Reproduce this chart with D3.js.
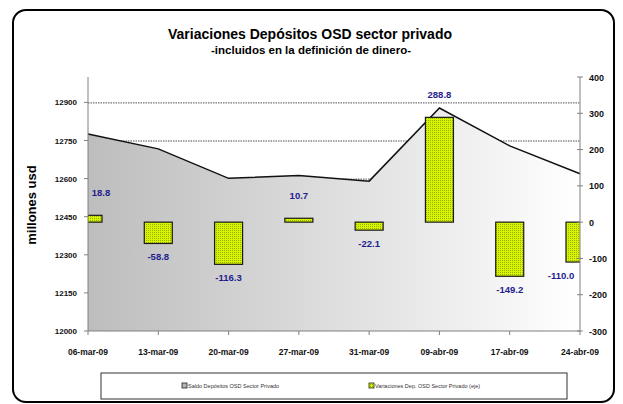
<!DOCTYPE html>
<html>
<head>
<meta charset="utf-8">
<script src="https://cdn.jsdelivr.net/npm/d3@7"></script>
<style>
  html, body { margin: 0; padding: 0; background: #fff; }
  svg { display: block; font-family: "Liberation Sans", Arial, sans-serif; }
</style>
</head>
<body>
<svg id="chart" width="623" height="404"></svg>
<script>
// chart data
const categories = ["06-mar-09", "13-mar-09", "20-mar-09", "27-mar-09", "31-mar-09", "09-abr-09", "17-abr-09", "24-abr-09"];
const saldo = [12776, 12717, 12601, 12612, 12590, 12878, 12729, 12619];
const variaciones = [18.8, -58.8, -116.3, 10.7, -22.1, 288.8, -149.2, -110.0];
const leftTicks = [12000, 12150, 12300, 12450, 12600, 12750, 12900];
const rightTicks = [-300, -200, -100, 0, 100, 200, 300, 400];
const legendLabels = ["Saldo Depósitos OSD Sector Privado", "Variaciones Dep. OSD Sector Privado (eje)"];

const W = 623, H = 404;
const plot = { left: 88, right: 580, top: 77, bottom: 331 };
const BAR_W = 28;

const svg = d3.select("#chart");
const defs = svg.append("defs");

// gradient for the area (gray to white, left to right)
const grad = defs.append("linearGradient")
  .attr("id", "areaGrad")
  .attr("gradientUnits", "userSpaceOnUse")
  .attr("x1", plot.left).attr("x2", plot.right)
  .attr("y1", 0).attr("y2", 0);
grad.append("stop").attr("offset", 0).attr("stop-color", "#bdbdbd");
grad.append("stop").attr("offset", 1).attr("stop-color", "#ffffff");

// stippled yellow-green fill for the bars
const pat = defs.append("pattern")
  .attr("id", "barPat")
  .attr("patternUnits", "userSpaceOnUse")
  .attr("width", 2).attr("height", 2);
pat.append("rect").attr("width", 2).attr("height", 2).attr("fill", "#d6f500");
pat.append("rect").attr("width", 1).attr("height", 1).attr("fill", "#9cae00");

defs.append("clipPath").attr("id", "plotClip")
  .append("rect")
  .attr("x", plot.left).attr("y", plot.top)
  .attr("width", plot.right - plot.left).attr("height", plot.bottom - plot.top);

// scales
const x = d3.scalePoint().domain(categories).range([plot.left, plot.right]);
const yL = d3.scaleLinear().domain([12000, 13000]).range([plot.bottom, plot.top]);
const yR = d3.scaleLinear().domain([-300, 400]).range([plot.bottom, plot.top]);

// outer frame
svg.append("rect")
  .attr("x", 13).attr("y", 10)
  .attr("width", 601).attr("height", 392)
  .attr("rx", 13).attr("ry", 13)
  .attr("fill", "none").attr("stroke", "#000").attr("stroke-width", 2);

// titles
svg.append("text")
  .attr("x", 310).attr("y", 39)
  .attr("text-anchor", "middle")
  .attr("font-size", 14).attr("font-weight", "bold")
  .text("Variaciones Depósitos OSD sector privado");
svg.append("text")
  .attr("x", 311).attr("y", 54)
  .attr("text-anchor", "middle")
  .attr("font-size", 11.5).attr("font-weight", "bold")
  .text("-incluidos en la definición de dinero-");

// gridlines (under the area)
svg.append("g")
  .selectAll("line")
  .data(leftTicks.filter(t => t > 12000))
  .join("line")
  .attr("x1", plot.left).attr("x2", plot.right)
  .attr("y1", d => yL(d) + 0.5).attr("y2", d => yL(d) + 0.5)
  .attr("stroke", "#222").attr("stroke-width", 0.8)
  .attr("stroke-dasharray", "1.5,1");

// area + line
const area = d3.area()
  .x((d, i) => x(categories[i]))
  .y0(plot.bottom)
  .y1(d => yL(d));
const line = d3.line()
  .x((d, i) => x(categories[i]))
  .y(d => yL(d));

svg.append("path")
  .datum(saldo)
  .attr("d", area)
  .attr("fill", "url(#areaGrad)");
svg.append("path")
  .datum(saldo)
  .attr("d", line)
  .attr("fill", "none")
  .attr("stroke", "#111").attr("stroke-width", 1.5);

// bars on secondary axis
svg.append("g")
  .attr("clip-path", "url(#plotClip)")
  .selectAll("rect")
  .data(variaciones)
  .join("rect")
  .attr("x", (d, i) => x(categories[i]) - BAR_W / 2)
  .attr("y", d => yR(Math.max(0, d)))
  .attr("width", BAR_W)
  .attr("height", d => Math.abs(yR(d) - yR(0)))
  .attr("fill", "url(#barPat)")
  .attr("stroke", "#1a1a1a").attr("stroke-width", 1.2);

// data labels
svg.append("g")
  .selectAll("text")
  .data(variaciones)
  .join("text")
  .attr("x", (d, i) => Math.min(x(categories[i]) + (i === 0 ? 13 : 0), plot.right - 19))
  .attr("y", d => d >= 0 ? yR(d) - 19 : yR(d) + 17)
  .attr("text-anchor", "middle")
  .attr("font-size", 9.5).attr("font-weight", "bold")
  .attr("fill", "#1e1e8e")
  .text(d => d.toFixed(1));

// axes
const axisColor = "#808080";
const gL = svg.append("g");
gL.append("line")
  .attr("x1", plot.left).attr("x2", plot.left)
  .attr("y1", plot.top).attr("y2", plot.bottom)
  .attr("stroke", axisColor);
gL.selectAll(".tk").data(leftTicks).join("line")
  .attr("x1", plot.left - 4).attr("x2", plot.left)
  .attr("y1", d => yL(d)).attr("y2", d => yL(d))
  .attr("stroke", axisColor);
gL.selectAll("text").data(leftTicks).join("text")
  .attr("x", 77).attr("y", d => yL(d) + 3)
  .attr("text-anchor", "end")
  .attr("font-size", 8).attr("font-weight", "bold")
  .attr("fill", "#111")
  .text(d => d);

const gR = svg.append("g");
gR.append("line")
  .attr("x1", plot.right).attr("x2", plot.right)
  .attr("y1", plot.top).attr("y2", plot.bottom)
  .attr("stroke", axisColor);
gR.selectAll(".tk").data(rightTicks).join("line")
  .attr("x1", plot.right - 3).attr("x2", plot.right + 3)
  .attr("y1", d => yR(d)).attr("y2", d => yR(d))
  .attr("stroke", axisColor);
gR.selectAll("text").data(rightTicks).join("text")
  .attr("x", 589).attr("y", d => yR(d) + 3.5)
  .attr("font-size", 9).attr("font-weight", "bold")
  .attr("fill", "#111")
  .text(d => d);

const gX = svg.append("g");
gX.append("line")
  .attr("x1", plot.left).attr("x2", plot.right)
  .attr("y1", plot.bottom).attr("y2", plot.bottom)
  .attr("stroke", axisColor);
gX.selectAll(".tk").data(categories).join("line")
  .attr("x1", d => x(d)).attr("x2", d => x(d))
  .attr("y1", plot.bottom).attr("y2", plot.bottom + 4)
  .attr("stroke", axisColor);
gX.selectAll("text").data(categories).join("text")
  .attr("x", d => x(d)).attr("y", 355)
  .attr("text-anchor", "middle")
  .attr("font-size", 8.5).attr("font-weight", "bold")
  .attr("fill", "#111")
  .text(d => d);

// y axis title
svg.append("text")
  .attr("transform", "translate(36,205) rotate(-90)")
  .attr("text-anchor", "middle")
  .attr("font-size", 13).attr("font-weight", "bold")
  .text("millones usd");

// legend
const lg = svg.append("g");
lg.append("rect")
  .attr("x", 101).attr("y", 373)
  .attr("width", 466).attr("height", 26)
  .attr("fill", "#fff").attr("stroke", "#333").attr("stroke-width", 1);
const legendX = [182, 369];
const legendFill = ["#b5b5b5", "url(#barPat)"];
legendLabels.forEach((lab, i) => {
  lg.append("rect")
    .attr("x", legendX[i]).attr("y", 383)
    .attr("width", 5).attr("height", 5)
    .attr("fill", legendFill[i]).attr("stroke", "#222").attr("stroke-width", 0.8);
  lg.append("text")
    .attr("x", legendX[i] + 6).attr("y", 388)
    .attr("font-size", 5.5)
    .attr("fill", "#333")
    .text(lab);
});
</script>
</body>
</html>
